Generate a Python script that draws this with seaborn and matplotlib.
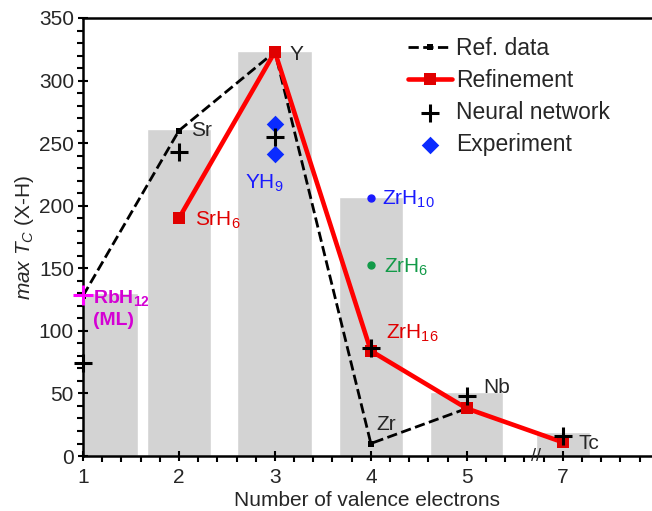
import matplotlib
matplotlib.use('Agg')
import matplotlib.pyplot as plt
import seaborn as sns
from matplotlib.ticker import MultipleLocator

# Data
x_positions = [1, 2, 3, 4, 5, 6]
x_labels = ['1', '2', '3', '4', '5', '7']
bar_heights = [130, 261, 324, 207, 51, 19]
ref_data = [128, 260, 323, 10, 38, 11]
refine_x = [2, 3, 4, 5, 6]
refinement = [190, 323, 84, 38, 11]
nn_values = [74, 243, 255, 86, 48, 16]
exp_x = [3, 3]
exp_values = [265, 241]
rbh12_ml = 129
zrh10 = 206
zrh6 = 153

# bar widths (style only)
bar_widths = [1.15, 0.66, 0.78, 0.66, 0.76, 0.56]

sns.set_style('ticks')
plt.rcParams['font.family'] = ['Liberation Sans', 'DejaVu Sans']
plt.rcParams['mathtext.fontset'] = 'custom'
plt.rcParams['mathtext.rm'] = 'Liberation Sans'
plt.rcParams['mathtext.it'] = 'Liberation Sans:italic'
plt.rcParams['mathtext.bf'] = 'Liberation Sans:bold'

fig = plt.figure(figsize=(6.52, 5.11), dpi=100)
ax = fig.add_axes([0.1273, 0.1076, 0.8727, 0.8572])

# Gray background bars
ax.bar(x_positions, bar_heights, width=bar_widths, color='#d3d3d3', zorder=0)

# Lines
sns.lineplot(x=x_positions, y=ref_data, ax=ax, color='black', linestyle='--',
             dashes=(3.0, 1.8), linewidth=2.0, marker='s', markersize=5,
             markeredgewidth=0, label='Ref. data', zorder=2)
sns.lineplot(x=refine_x, y=refinement, ax=ax, color='#ff0000', linewidth=3.3,
             marker='s', markersize=8.5, markeredgewidth=0, markerfacecolor='#e00000',
             label='Refinement', zorder=3)

# Points
sns.scatterplot(x=x_positions, y=nn_values, ax=ax, color='black', marker='+',
                s=180, linewidth=2.2, label='Neural network', zorder=5,
                clip_on=False)
sns.scatterplot(x=exp_x, y=exp_values, ax=ax, color='#0a2bff', marker='D',
                s=80, linewidth=0, label='Experiment', zorder=4)
ax.plot([1], [rbh12_ml], marker='+', color='#ff00ff', markersize=14,
        markeredgewidth=2.2, clip_on=False, zorder=6)
ax.plot([4], [zrh10], marker='o', color='#1a1aff', markersize=5, zorder=4)
ax.plot([4], [zrh6], marker='o', color='#129a48', markersize=5, zorder=4)

# Annotations
fs = 15
ax.text(2.13, 260, 'Sr', fontsize=fs, va='center')
ax.text(3.15, 321, 'Y', fontsize=fs, va='center')
ax.text(2.17, 188, 'SrH$_6$', fontsize=fs, va='center', color='#e00000')
ax.text(2.69, 218, 'YH$_9$', fontsize=fs, va='center', color='#1a1aff')
ax.text(4.12, 205, 'ZrH$_{10}$', fontsize=fs, va='center', color='#1a1aff')
ax.text(4.14, 151, 'ZrH$_6$', fontsize=fs, va='center', color='#129a48')
ax.text(4.16, 98, 'ZrH$_{16}$', fontsize=fs, va='center', color='#e00000')
ax.text(5.17, 55, 'Nb', fontsize=fs, va='center')
ax.text(4.06, 25, 'Zr', fontsize=fs, va='center')
ax.text(6.16, 10, 'Tc', fontsize=fs, va='center')
ax.text(1.1, 126, r'RbH$_{\mathbf{12}}$', fontsize=14, va='center',
        color='#d400d4', fontweight='bold')
ax.text(1.1, 108, '(ML)', fontsize=14, va='center', color='#d400d4',
        fontweight='bold')
ax.text(5.72, 0, '//', fontsize=13, ha='center', va='center',
        clip_on=False, zorder=7)

# Axes setup
ax.set_xlim(1, 6.93)
ax.set_ylim(0, 350)
ax.set_xticks(x_positions)
ax.set_xticklabels(x_labels)
ax.xaxis.set_minor_locator(MultipleLocator(0.2))
ax.yaxis.set_major_locator(MultipleLocator(50))
ax.yaxis.set_minor_locator(MultipleLocator(10))
ax.tick_params(which='major', direction='inout', length=7, width=1.5,
               labelsize=15, color='black')
ax.tick_params(which='minor', direction='out', length=4, width=1.5,
               color='black')
ax.tick_params(axis='x', which='major', pad=5)
ax.tick_params(axis='y', which='major', pad=3)
for side in ['left', 'bottom', 'top']:
    ax.spines[side].set_linewidth(1.8)
    ax.spines[side].set_color('black')
ax.spines['right'].set_visible(False)

ax.set_xlabel('Number of valence electrons', fontsize=15, labelpad=3)
ax.set_ylabel(r'$\mathit{max}$ $\mathit{T}_{\mathit{C}}$ (X-H)', fontsize=15,
              labelpad=2)

ax.legend(loc='upper left', bbox_to_anchor=(0.555, 0.978), frameon=False,
          fontsize=16.5, handlelength=1.9, handletextpad=0.2,
          labelspacing=0.4, borderaxespad=0)

plt.savefig('out.png', dpi=100)
